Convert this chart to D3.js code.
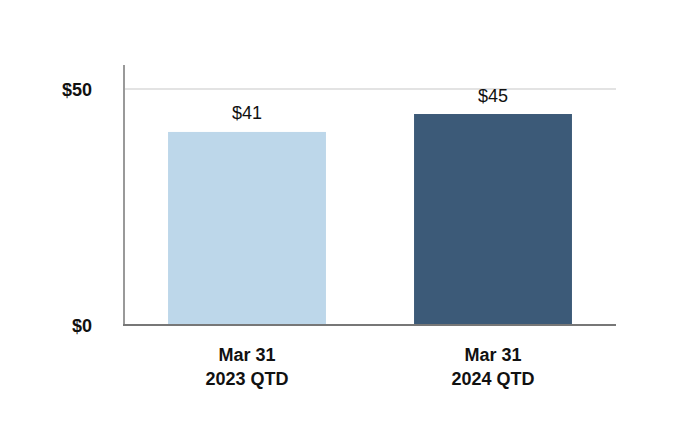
<!DOCTYPE html>
<html><head><meta charset="utf-8">
<script src="https://cdn.jsdelivr.net/npm/d3@7"></script>
<style>body{margin:0;background:#fff}svg{display:block}text{font-family:"Liberation Sans",Arial,sans-serif}</style>
</head><body>
<svg id="c" width="680" height="448"></svg>
<script>
const categories = [["Mar 31","2023 QTD"],["Mar 31","2024 QTD"]];
const values = [40.9, 44.7];
const valueLabels = ["$41", "$45"];
const colors = ["#bdd7ea", "#3c5a78"];
const yTicks = [0, 50];
const yTickLabels = ["$0", "$50"];

const svg = d3.select("#c");
const x0 = 124, x1 = 616, yBase = 325;
const x = d3.scaleBand().domain(d3.range(values.length)).range([x0, x1]).paddingInner(0.358).paddingOuter(0.179);
const y = d3.scaleLinear().domain([0, 55]).range([yBase, 65.4]);

svg.selectAll("line.grid").data(yTicks.filter(d => d > 0)).join("line")
  .attr("x1", x0).attr("x2", x1).attr("y1", d => y(d)).attr("y2", d => y(d))
  .attr("stroke", "#e3e3e3").attr("stroke-width", 2);

svg.selectAll("rect.bar").data(values).join("rect")
  .attr("x", (d, i) => x(i)).attr("width", x.bandwidth())
  .attr("y", d => y(d)).attr("height", d => yBase - y(d))
  .attr("fill", (d, i) => colors[i]);

svg.selectAll("text.val").data(values).join("text")
  .attr("x", (d, i) => x(i) + x.bandwidth() / 2).attr("y", d => y(d) - 12.5)
  .attr("text-anchor", "middle").attr("font-size", 18).attr("fill", "#111")
  .text((d, i) => valueLabels[i]);

svg.append("line").attr("x1", x0).attr("x2", x0).attr("y1", 65).attr("y2", yBase)
  .attr("stroke", "#999").attr("stroke-width", 2);
svg.append("line").attr("x1", x0 - 1).attr("x2", x1).attr("y1", yBase).attr("y2", yBase)
  .attr("stroke", "#777").attr("stroke-width", 2);

svg.selectAll("text.yt").data(yTicks).join("text")
  .attr("x", 92).attr("y", d => y(d) + 6.5)
  .attr("text-anchor", "end").attr("font-size", 18).attr("font-weight", "bold").attr("fill", "#111")
  .text((d, i) => yTickLabels[i]);

const cat = svg.selectAll("text.cat").data(categories).join("text")
  .attr("text-anchor", "middle").attr("font-size", 18).attr("font-weight", "bold").attr("fill", "#111");
cat.selectAll("tspan").data((d, i) => d.map(s => [s, i])).join("tspan")
  .attr("x", d => x(d[1]) + x.bandwidth() / 2)
  .attr("y", (d, j) => 360.5 + j * 24)
  .text(d => d[0]);
</script>
</body></html>
